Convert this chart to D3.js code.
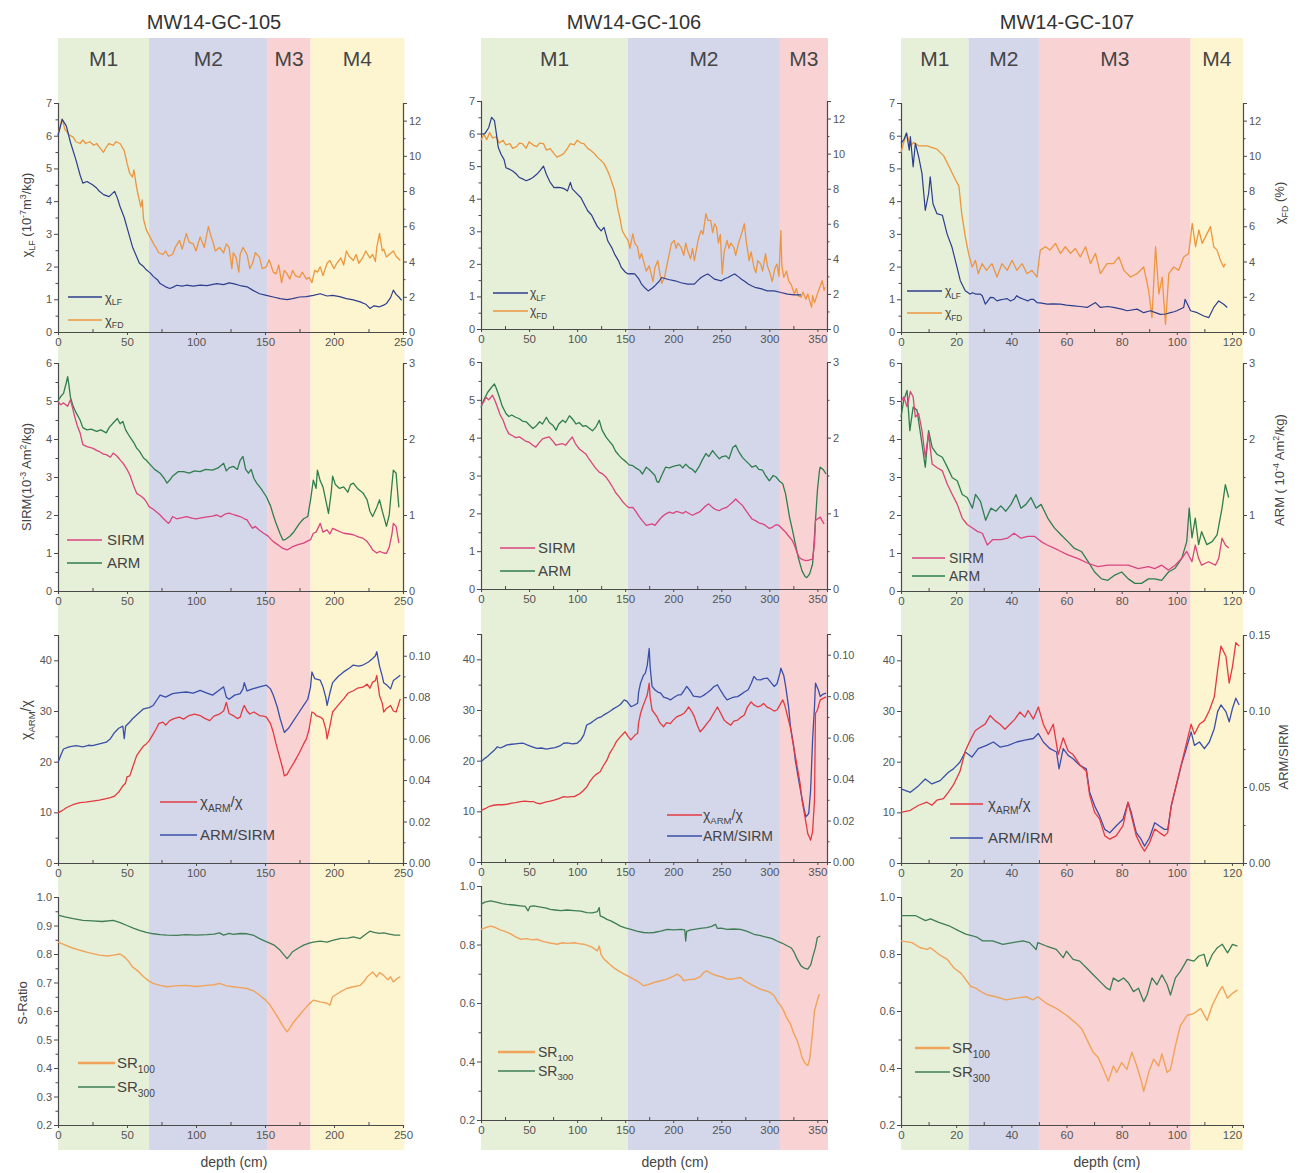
<!DOCTYPE html>
<html><head><meta charset="utf-8">
<script src="https://cdn.jsdelivr.net/npm/d3@7"></script>
<style>body{margin:0;background:#fff}svg{display:block;font-family:"Liberation Sans",Arial,sans-serif}</style>
</head><body><svg id="c" width="1300" height="1173"></svg>
<script>
// ---------------- DATA ----------------
const coreNames = ['MW14-GC-105','MW14-GC-106','MW14-GC-107'];
const zones105 = [0, 66, 152, 183, 251];
const zones106 = [0, 153, 311, 361];
const zones107 = [0, 24.5, 50, 105, 124];
const zoneNames105 = ['M1','M2','M3','M4'];
const zoneNames106 = ['M1','M2','M3'];
const zoneNames107 = ['M1','M2','M3','M4'];
const xTicks105 = [0,50,100,150,200,250];
const xTicks106 = [0,50,100,150,200,250,300,350];
const xTicks107 = [0,20,40,60,80,100,120];
const ticksChiLF = [0,1,2,3,4,5,6,7];
const ticksChiFD = [0,2,4,6,8,10,12];
const ticksSIRM = [0,1,2,3,4,5,6];
const ticksARM = [0,1,2,3];
const ticksChiRatio = [0,10,20,30,40];
const ticksArmSirmA = [0,0.02,0.04,0.06,0.08,0.10];
const ticksArmSirmB = [0,0.05,0.10,0.15];
const ticksSRa = [0.2,0.3,0.4,0.5,0.6,0.7,0.8,0.9,1.0];
const ticksSRb = [0.2,0.4,0.6,0.8,1.0];

// GC-105
const chiLF_105 = [[0,6.0],[3,6.5],[6,6.3],[9,5.8],[13,5.26],[16,4.8],[18,4.55],[21,4.6],[25,4.5],[28,4.4],[30,4.3],[33,4.2],[37,4.14],[41,4.3],[43,4.1],[45,3.83],[48,3.5],[50,3.2],[52,2.9],[54,2.6],[57,2.3],[59,2.1],[62,2.0],[64,1.9],[67,1.8],[69,1.7],[72,1.6],[74,1.48],[78,1.38],[81,1.33],[84,1.38],[86,1.43],[90,1.4],[93,1.43],[98,1.4],[103,1.43],[108,1.42],[115,1.48],[120,1.45],[124,1.5],[127,1.48],[132,1.42],[137,1.38],[141,1.28],[146,1.17],[151,1.12],[156,1.07],[161,1.02],[166,0.99],[170,1.02],[175,1.07],[180,1.08],[185,1.12],[190,1.17],[195,1.1],[199,1.12],[204,1.08],[209,1.02],[214,0.98],[219,0.92],[223,0.85],[226,0.72],[229,0.8],[233,0.77],[236,0.82],[238,0.87],[241,1.05],[243,1.28],[245,1.15],[247,1.07],[249,0.97]];
const chiFD_105 = [[0,11.2],[2,11.8],[3,12.1],[5,11.5],[8,11.2],[11,11.06],[13,10.8],[16,10.7],[18,10.9],[20,10.7],[23,10.8],[26,10.6],[28,10.7],[30,10.5],[33,10.2],[35,10.5],[37,10.7],[40,10.6],[42,10.8],[45,10.7],[48,10.3],[50,9.6],[52,9.0],[54,8.8],[55,9.2],[57,8.2],[58,7.8],[60,7.1],[61,7.5],[62,6.4],[64,5.8],[66,5.5],[68,5.2],[70,4.9],[71,4.8],[73,4.5],[76,4.4],[78,4.6],[80,4.3],[83,4.4],[85,4.8],[88,5.2],[90,4.7],[93,5.6],[95,5.1],[98,5.0],[100,4.6],[103,5.4],[106,4.8],[109,6.0],[111,5.4],[112,5.2],[114,4.6],[117,4.8],[120,4.5],[122,5.0],[124,4.8],[126,3.6],[127,4.5],[129,4.25],[131,3.4],[132,4.4],[134,4.8],[137,4.4],[139,3.6],[141,3.9],[143,4.5],[146,4.25],[148,3.6],[151,3.7],[153,4.1],[156,3.4],[158,3.3],[160,3.8],[162,2.8],[164,3.5],[166,3.3],[168,3.0],[170,3.5],[172,3.2],[175,3.1],[177,3.4],[180,3.0],[182,3.1],[184,2.8],[186,3.5],[188,3.4],[190,3.7],[192,3.2],[195,3.9],[197,4.06],[200,3.6],[202,3.9],[205,4.2],[207,3.8],[209,4.6],[211,4.3],[214,4.06],[216,4.4],[218,3.9],[221,4.25],[223,4.6],[226,4.2],[228,4.4],[230,4.0],[231,4.8],[233,5.6],[235,4.6],[236,4.7],[238,4.25],[240,4.4],[243,4.6],[245,4.3],[248,4.06]];
const sirm_105 = [[0,4.99],[2,4.9],[4,4.95],[7,4.86],[9,5.03],[10,4.9],[12,4.6],[14,4.35],[16,4.16],[18,3.85],[21,3.8],[25,3.76],[28,3.7],[30,3.67],[33,3.6],[35,3.59],[38,3.52],[40,3.63],[43,3.54],[45,3.45],[47,3.37],[50,3.2],[52,3.06],[55,2.75],[57,2.57],[60,2.5],[62,2.44],[64,2.35],[66,2.22],[69,2.15],[71,2.09],[74,2.0],[76,1.92],[78,1.85],[80,1.78],[81,1.82],[83,1.96],[86,1.9],[90,1.93],[93,1.96],[97,1.92],[100,1.9],[103,1.92],[108,1.95],[112,1.97],[115,2.0],[118,1.95],[121,2.02],[124,2.05],[128,2.0],[132,1.96],[135,1.9],[137,1.87],[139,1.75],[141,1.65],[143,1.7],[146,1.6],[149,1.52],[152,1.45],[156,1.3],[160,1.2],[163,1.12],[166,1.08],[168,1.12],[170,1.17],[174,1.22],[178,1.26],[180,1.3],[183,1.35],[185,1.52],[187,1.55],[189,1.7],[190,1.78],[192,1.55],[195,1.61],[197,1.5],[199,1.65],[203,1.58],[207,1.52],[211,1.5],[214,1.48],[218,1.42],[221,1.39],[224,1.3],[226,1.2],[228,1.08],[231,1.0],[233,1.04],[236,1.0],[238,0.99],[240,1.15],[242,1.5],[243,1.78],[245,1.7],[247,1.26]];
const arm_105 = [[0,2.5],[2,2.56],[4,2.6],[6,2.74],[7,2.82],[8,2.7],[9,2.55],[11,2.43],[13,2.35],[16,2.25],[18,2.15],[21,2.12],[24,2.13],[28,2.1],[31,2.12],[35,2.08],[37,2.15],[40,2.21],[42,2.25],[43,2.27],[45,2.2],[47,2.23],[49,2.12],[52,2.03],[55,1.95],[57,1.88],[59,1.84],[62,1.75],[64,1.72],[66,1.68],[70,1.6],[74,1.55],[77,1.48],[79,1.42],[81,1.46],[83,1.51],[87,1.57],[91,1.57],[95,1.55],[99,1.58],[103,1.57],[107,1.6],[112,1.59],[116,1.62],[120,1.68],[122,1.58],[124,1.62],[127,1.64],[130,1.6],[132,1.72],[134,1.77],[136,1.6],[138,1.55],[140,1.6],[142,1.48],[144,1.42],[147,1.35],[151,1.24],[154,1.12],[156,1.0],[158,0.89],[161,0.75],[163,0.67],[165,0.68],[168,0.72],[171,0.78],[175,0.89],[178,0.95],[181,0.98],[183,1.2],[185,1.46],[187,1.35],[188,1.59],[190,1.45],[192,1.37],[194,1.2],[196,1.02],[198,1.3],[199,1.51],[201,1.4],[204,1.35],[207,1.37],[210,1.3],[212,1.4],[214,1.42],[217,1.35],[221,1.29],[224,1.2],[226,1.05],[228,0.98],[231,1.1],[233,1.2],[235,1.05],[238,0.85],[240,1.0],[242,1.4],[243,1.59],[245,1.55],[247,1.1]];
const chiRatio_105 = [[0,9.9],[2,10.2],[4,10.5],[6,10.9],[9,11.3],[12,11.6],[16,11.9],[20,12.0],[25,12.2],[30,12.4],[35,12.7],[38,12.9],[41,13.2],[44,14.0],[47,15.2],[49,15.8],[50,17.0],[52,17.2],[54,18.8],[57,21.2],[59,22.0],[62,23.1],[64,23.5],[66,24.1],[68,25.0],[71,26.4],[73,27.5],[76,27.8],[78,27.2],[81,28.1],[84,28.5],[88,28.8],[91,28.4],[95,29.1],[99,29.4],[103,29.1],[106,28.6],[110,28.1],[113,29.0],[117,29.4],[120,30.0],[122,31.7],[124,29.5],[127,29.1],[130,28.5],[132,28.8],[134,30.5],[135,31.1],[137,30.0],[139,29.4],[142,29.8],[146,29.1],[149,29.0],[151,28.8],[154,27.5],[156,25.8],[158,23.5],[161,20.5],[163,18.5],[164,17.2],[166,17.5],[168,18.5],[171,19.8],[175,21.8],[178,23.5],[180,24.5],[182,26.5],[184,29.8],[186,29.5],[187,29.1],[190,28.8],[192,28.4],[194,26.5],[195,24.5],[197,27.0],[199,29.8],[202,30.8],[205,31.8],[207,32.4],[210,33.5],[214,34.0],[217,34.5],[221,34.7],[224,35.3],[226,34.5],[228,35.7],[230,36.0],[231,37.0],[233,33.0],[235,31.5],[236,29.8],[238,30.5],[241,31.1],[243,30.0],[245,29.8],[247,31.5],[248,32.4]];
const armSirm_105 = [[0,0.0485],[2,0.052],[4,0.055],[8,0.056],[13,0.0566],[18,0.056],[22,0.0568],[25,0.0566],[30,0.0575],[35,0.0583],[38,0.06],[41,0.063],[44,0.065],[47,0.066],[48,0.06],[49,0.066],[52,0.068],[54,0.0696],[58,0.072],[62,0.0744],[66,0.075],[69,0.076],[72,0.079],[74,0.081],[78,0.08],[83,0.0817],[88,0.0822],[93,0.0825],[98,0.082],[103,0.0833],[108,0.082],[112,0.081],[116,0.083],[120,0.085],[122,0.08],[124,0.079],[128,0.081],[132,0.0817],[134,0.084],[135,0.087],[137,0.083],[141,0.084],[146,0.085],[151,0.0858],[154,0.084],[156,0.081],[159,0.075],[161,0.0696],[164,0.063],[167,0.065],[170,0.068],[174,0.072],[178,0.076],[181,0.079],[183,0.085],[184,0.0922],[186,0.089],[190,0.0882],[192,0.085],[194,0.08],[195,0.076],[197,0.082],[199,0.087],[203,0.09],[207,0.0922],[211,0.094],[214,0.0955],[218,0.095],[221,0.0955],[225,0.097],[228,0.0987],[230,0.1],[231,0.102],[233,0.095],[235,0.09],[236,0.087],[238,0.086],[241,0.084],[243,0.088],[245,0.089],[248,0.0906]];
const srLow_105 = [[0,0.842],[5,0.832],[10,0.822],[16,0.813],[22,0.805],[30,0.796],[36,0.793],[40,0.796],[45,0.8],[48,0.79],[51,0.775],[54,0.755],[58,0.74],[62,0.72],[66,0.705],[69,0.697],[74,0.69],[79,0.685],[85,0.688],[93,0.69],[100,0.686],[108,0.69],[113,0.692],[117,0.697],[122,0.688],[127,0.685],[132,0.682],[137,0.679],[142,0.67],[146,0.656],[150,0.64],[153,0.625],[156,0.603],[159,0.58],[162,0.556],[164,0.54],[166,0.527],[168,0.54],[170,0.556],[174,0.58],[178,0.603],[182,0.625],[185,0.638],[190,0.632],[195,0.627],[197,0.62],[199,0.65],[204,0.665],[209,0.679],[214,0.685],[219,0.69],[222,0.705],[224,0.72],[226,0.728],[228,0.737],[231,0.72],[233,0.735],[236,0.725],[239,0.71],[241,0.72],[243,0.702],[246,0.715],[248,0.72]];
const srHigh_105 = [[0,0.936],[5,0.93],[11,0.924],[18,0.918],[25,0.916],[32,0.914],[40,0.918],[45,0.91],[50,0.9],[55,0.89],[59,0.883],[64,0.876],[69,0.871],[74,0.868],[79,0.866],[86,0.865],[93,0.868],[100,0.866],[108,0.868],[113,0.87],[117,0.874],[120,0.866],[124,0.872],[127,0.869],[132,0.872],[137,0.871],[142,0.865],[146,0.854],[150,0.845],[153,0.839],[157,0.83],[161,0.813],[164,0.795],[166,0.784],[168,0.795],[170,0.808],[174,0.82],[178,0.831],[182,0.838],[185,0.842],[190,0.845],[195,0.842],[199,0.848],[205,0.855],[210,0.856],[214,0.86],[219,0.854],[222,0.866],[226,0.88],[229,0.876],[233,0.872],[236,0.874],[240,0.87],[244,0.866],[248,0.866]];

// GC-106
const chiLF_106 = [[0,5.98],[4,6.0],[8,6.18],[11,6.5],[14,6.4],[16,6.0],[18,5.57],[21,5.36],[24,5.2],[26,4.95],[30,4.9],[33,4.85],[37,4.75],[40,4.65],[44,4.6],[47,4.55],[51,4.6],[54,4.65],[58,4.75],[61,4.85],[65,5.0],[68,4.75],[72,4.5],[76,4.34],[80,4.35],[83,4.34],[87,4.3],[90,4.24],[93,4.5],[95,4.3],[97,4.24],[100,4.15],[104,4.03],[108,3.8],[111,3.63],[115,3.5],[118,3.32],[121,3.15],[125,3.01],[128,3.12],[132,2.7],[136,2.5],[139,2.3],[143,2.1],[146,1.89],[150,1.75],[153,1.69],[157,1.7],[160,1.69],[164,1.55],[167,1.38],[171,1.25],[174,1.17],[178,1.25],[181,1.33],[185,1.45],[188,1.58],[195,1.52],[202,1.48],[208,1.42],[215,1.38],[222,1.38],[226,1.5],[229,1.58],[233,1.65],[236,1.69],[240,1.6],[243,1.53],[247,1.5],[250,1.48],[254,1.55],[257,1.58],[261,1.65],[264,1.69],[268,1.6],[271,1.53],[275,1.45],[278,1.38],[282,1.32],[285,1.28],[292,1.23],[298,1.17],[305,1.17],[312,1.12],[319,1.07],[326,1.05],[333,1.05]];
const chiFD_106 = [[0,10.76],[3,11.1],[6,10.8],[9,11.2],[12,10.9],[16,10.95],[19,10.6],[23,10.76],[26,10.5],[30,10.57],[33,10.3],[37,10.4],[40,10.6],[43,10.57],[47,10.3],[50,10.67],[54,10.5],[58,10.4],[61,10.6],[65,10.57],[68,10.2],[72,10.29],[76,10.0],[79,9.8],[83,9.9],[86,10.0],[90,10.3],[93,10.57],[97,10.5],[100,10.76],[104,10.6],[107,10.57],[111,10.3],[114,10.19],[118,10.0],[121,9.8],[125,9.6],[128,9.43],[131,9.1],[133,8.86],[136,8.4],[139,7.9],[142,6.95],[145,6.2],[147,5.6],[150,5.3],[153,5.05],[155,4.6],[158,5.43],[160,4.9],[163,4.67],[165,4.0],[167,4.3],[170,3.7],[172,3.3],[175,3.6],[177,3.14],[179,2.7],[181,3.5],[184,3.9],[186,3.2],[188,2.6],[191,2.95],[194,3.8],[196,4.3],[198,4.86],[201,5.05],[203,4.6],[205,4.9],[208,4.67],[211,4.2],[213,4.9],[215,4.48],[218,4.0],[220,4.6],[222,3.9],[224,4.5],[226,5.1],[229,5.62],[231,5.4],[234,6.57],[236,6.2],[239,6.19],[241,5.5],[243,6.0],[245,5.8],[247,4.9],[249,5.4],[251,3.14],[253,4.4],[256,5.05],[258,4.6],[260,4.9],[263,4.67],[265,4.2],[268,4.9],[270,5.24],[272,5.6],[274,6.0],[276,5.0],[279,3.9],[281,4.4],[284,3.52],[286,3.2],[288,3.9],[291,3.7],[293,3.3],[296,4.29],[298,3.6],[301,3.14],[303,2.7],[306,3.5],[308,3.7],[310,3.0],[312,5.62],[313,3.6],[315,2.95],[318,3.3],[320,2.76],[323,2.5],[326,2.0],[328,2.3],[330,1.9],[333,1.81],[335,2.1],[338,1.7],[340,2.0],[342,1.6],[344,1.24],[345,1.9],[347,1.5],[350,2.0],[352,2.3],[355,2.76],[357,2.2],[358,2.38]];
const sirm_106 = [[0,4.85],[3,4.95],[5,5.07],[8,5.0],[12,5.12],[15,4.95],[17,4.81],[20,4.6],[23,4.46],[26,4.25],[29,4.1],[33,4.05],[36,4.0],[40,4.02],[44,3.95],[47,3.9],[50,3.88],[54,3.8],[57,3.75],[60,3.85],[64,3.97],[68,4.0],[71,4.02],[75,3.9],[78,3.8],[81,3.82],[85,3.84],[88,3.8],[92,3.93],[95,4.02],[98,3.85],[102,3.71],[105,3.65],[109,3.57],[112,3.45],[116,3.31],[119,3.2],[123,3.09],[126,3.05],[130,2.96],[133,2.85],[137,2.69],[140,2.55],[144,2.43],[147,2.32],[151,2.21],[154,2.15],[158,2.16],[161,2.05],[165,1.9],[168,1.8],[172,1.68],[175,1.7],[178,1.72],[181,1.68],[185,1.81],[188,1.9],[192,1.98],[196,2.03],[200,2.0],[203,2.05],[206,2.03],[210,2.0],[213,2.05],[217,1.99],[220,1.95],[224,2.0],[227,2.03],[230,2.1],[234,2.2],[237,2.25],[241,2.15],[244,2.1],[248,2.07],[251,2.12],[255,2.15],[258,2.21],[262,2.3],[265,2.38],[268,2.3],[272,2.21],[275,2.1],[279,1.95],[282,1.85],[286,1.8],[289,1.75],[293,1.72],[296,1.68],[300,1.6],[303,1.63],[307,1.7],[310,1.68],[313,1.6],[317,1.5],[320,1.4],[324,1.28],[327,1.1],[329,0.95],[331,0.84],[334,0.78],[338,0.75],[341,0.76],[345,0.79],[347,1.2],[348,1.81],[350,1.85],[353,1.9],[355,1.8],[357,1.72]];
const arm_106 = [[0,2.4],[3,2.5],[7,2.6],[10,2.65],[14,2.71],[16,2.65],[19,2.54],[22,2.42],[26,2.32],[29,2.28],[32,2.3],[36,2.27],[40,2.25],[43,2.22],[47,2.21],[50,2.17],[54,2.12],[57,2.15],[61,2.21],[64,2.18],[68,2.27],[71,2.2],[75,2.16],[78,2.1],[81,2.18],[85,2.23],[88,2.2],[92,2.29],[95,2.25],[99,2.18],[102,2.2],[106,2.15],[109,2.16],[113,2.12],[116,2.09],[120,2.15],[123,2.23],[126,2.1],[130,2.01],[133,1.96],[137,1.9],[140,1.82],[144,1.76],[147,1.72],[151,1.68],[154,1.64],[158,1.63],[161,1.6],[165,1.57],[168,1.52],[172,1.61],[175,1.58],[178,1.54],[181,1.5],[183,1.42],[185,1.41],[188,1.5],[192,1.61],[196,1.6],[200,1.62],[203,1.63],[207,1.64],[210,1.6],[213,1.65],[217,1.6],[220,1.58],[223,1.54],[227,1.62],[230,1.7],[234,1.79],[237,1.75],[241,1.83],[244,1.78],[248,1.72],[251,1.75],[255,1.76],[258,1.72],[262,1.87],[265,1.9],[268,1.82],[272,1.74],[275,1.7],[279,1.65],[282,1.61],[286,1.63],[289,1.58],[293,1.57],[296,1.5],[300,1.43],[304,1.5],[307,1.48],[311,1.42],[314,1.39],[317,1.25],[321,0.95],[324,0.78],[327,0.6],[330,0.42],[334,0.24],[337,0.17],[339,0.15],[342,0.2],[345,0.33],[347,0.7],[350,1.3],[352,1.55],[353,1.61],[356,1.58],[359,1.52]];
const chiRatio_106 = [[0,10.2],[5,10.6],[9,11.0],[13,11.2],[18,11.3],[22,11.3],[27,11.4],[32,11.6],[36,11.7],[41,11.9],[46,12.0],[50,11.9],[55,11.9],[58,11.6],[62,11.5],[67,11.8],[72,12.0],[76,12.2],[81,12.5],[86,12.9],[90,12.8],[94,12.9],[97,12.9],[100,13.2],[103,13.5],[106,14.0],[110,14.8],[113,15.8],[117,16.8],[120,17.3],[124,17.8],[127,18.9],[131,20.1],[134,21.5],[138,22.7],[141,23.8],[145,24.7],[148,25.3],[150,25.7],[153,24.8],[156,24.1],[160,25.0],[163,25.4],[164,27.5],[166,29.3],[168,30.5],[171,32.0],[173,33.0],[175,35.3],[176,32.5],[178,30.0],[180,29.5],[183,28.7],[186,27.5],[190,26.7],[193,27.5],[197,27.3],[200,28.0],[204,28.7],[208,29.0],[211,29.3],[214,30.0],[216,30.6],[219,29.8],[222,28.7],[225,27.0],[228,25.7],[231,26.3],[235,27.3],[238,28.0],[242,29.3],[246,30.6],[249,29.5],[253,28.0],[256,27.5],[260,27.0],[263,27.8],[267,28.0],[270,28.5],[274,29.0],[277,30.5],[281,31.6],[284,31.0],[288,30.6],[291,30.8],[294,31.3],[298,30.5],[301,30.3],[305,29.8],[308,30.0],[311,31.0],[314,32.0],[316,31.0],[319,28.7],[322,26.5],[324,24.1],[327,21.0],[329,18.8],[332,15.5],[334,12.2],[337,9.0],[340,5.6],[342,4.8],[343,4.3],[345,6.0],[347,12.2],[348,29.3],[350,30.0],[353,32.0],[356,32.3],[359,32.6]];
const armSirm_106 = [[0,0.0484],[4,0.05],[7,0.051],[10,0.0524],[14,0.054],[17,0.0556],[20,0.055],[24,0.0558],[27,0.0565],[32,0.0568],[36,0.057],[40,0.0572],[44,0.0573],[48,0.0565],[52,0.0558],[58,0.0548],[63,0.055],[68,0.0545],[72,0.0548],[77,0.0552],[82,0.056],[86,0.0573],[90,0.0575],[95,0.057],[100,0.0573],[104,0.059],[107,0.0613],[110,0.0661],[114,0.067],[117,0.068],[121,0.0694],[125,0.07],[128,0.071],[131,0.0718],[135,0.073],[138,0.074],[142,0.075],[145,0.076],[149,0.0782],[152,0.0775],[156,0.075],[159,0.0755],[163,0.0766],[164,0.082],[166,0.0863],[169,0.09],[171,0.0911],[173,0.095],[175,0.103],[176,0.094],[178,0.0847],[181,0.083],[184,0.082],[187,0.0815],[190,0.0795],[194,0.079],[197,0.0782],[201,0.0795],[205,0.0806],[208,0.0806],[211,0.0825],[214,0.0847],[217,0.083],[221,0.08],[225,0.0798],[228,0.0795],[232,0.0805],[235,0.0815],[239,0.083],[242,0.0845],[246,0.0855],[249,0.083],[253,0.08],[256,0.0782],[260,0.079],[263,0.0795],[267,0.0798],[271,0.081],[274,0.082],[278,0.0831],[281,0.086],[284,0.0895],[287,0.088],[291,0.0879],[294,0.0885],[298,0.0887],[301,0.087],[305,0.0847],[308,0.086],[311,0.091],[312,0.0935],[315,0.09],[317,0.0847],[320,0.075],[322,0.0653],[325,0.057],[327,0.0492],[330,0.041],[333,0.0331],[336,0.026],[338,0.0218],[341,0.0234],[343,0.035],[345,0.0589],[347,0.075],[348,0.0863],[351,0.083],[353,0.0798],[356,0.081],[359,0.0815]];
const srLow_106 = [[0,0.852],[5,0.858],[10,0.863],[15,0.858],[20,0.85],[24,0.846],[30,0.838],[36,0.826],[41,0.818],[48,0.82],[53,0.816],[58,0.818],[65,0.81],[72,0.805],[79,0.801],[85,0.806],[90,0.804],[97,0.806],[102,0.803],[107,0.801],[112,0.795],[116,0.79],[121,0.778],[123,0.795],[125,0.765],[128,0.75],[133,0.735],[138,0.721],[143,0.71],[149,0.699],[154,0.69],[159,0.681],[164,0.672],[169,0.659],[174,0.663],[180,0.67],[187,0.676],[192,0.68],[197,0.687],[201,0.693],[204,0.699],[208,0.69],[211,0.676],[216,0.68],[222,0.681],[228,0.69],[232,0.705],[235,0.71],[240,0.7],[246,0.693],[252,0.688],[256,0.682],[260,0.681],[265,0.684],[270,0.687],[275,0.675],[281,0.664],[286,0.655],[291,0.647],[296,0.642],[301,0.636],[305,0.625],[308,0.607],[312,0.59],[315,0.573],[318,0.55],[322,0.528],[325,0.5],[329,0.471],[332,0.44],[334,0.414],[337,0.395],[340,0.386],[342,0.41],[343,0.437],[345,0.5],[347,0.573],[350,0.61],[352,0.63]];
const srHigh_106 = [[0,0.937],[4,0.945],[10,0.949],[16,0.945],[22,0.94],[27,0.937],[34,0.935],[41,0.932],[46,0.93],[49,0.915],[51,0.93],[55,0.932],[62,0.928],[68,0.924],[72,0.92],[77,0.918],[83,0.916],[90,0.918],[97,0.916],[104,0.914],[110,0.909],[116,0.908],[121,0.912],[123,0.926],[124,0.898],[128,0.892],[131,0.886],[135,0.881],[140,0.872],[145,0.863],[150,0.857],[156,0.852],[162,0.846],[169,0.841],[175,0.84],[180,0.841],[187,0.846],[194,0.852],[200,0.85],[208,0.852],[212,0.85],[213,0.812],[214,0.845],[218,0.85],[222,0.852],[228,0.855],[235,0.858],[240,0.862],[244,0.869],[246,0.855],[250,0.856],[256,0.852],[263,0.853],[270,0.852],[277,0.845],[284,0.835],[291,0.83],[298,0.824],[303,0.82],[308,0.812],[313,0.805],[319,0.795],[323,0.788],[326,0.772],[329,0.75],[333,0.727],[337,0.718],[340,0.716],[343,0.73],[345,0.755],[348,0.79],[350,0.824],[353,0.829]];

// GC-107
const chiLF_107 = [[0,5.77],[1,5.87],[2,6.08],[3,5.56],[3.4,5.97],[4.4,5.05],[5.2,5.77],[6.4,5.36],[7.6,4.85],[8.8,3.72],[10,4.23],[10.6,4.74],[11.6,3.92],[13,3.62],[15,3.57],[16.7,3.0],[18.5,2.59],[20.3,1.98],[21.5,1.57],[23.3,1.26],[25,1.16],[26,1.2],[27,1.16],[28.8,1.16],[29.5,1.1],[30.6,0.85],[31.5,0.95],[32.4,1.06],[33.5,1.05],[34.8,0.95],[36,0.98],[37.2,1.0],[38.5,1.02],[39.7,0.95],[41,1.0],[42,1.11],[43,1.05],[44.5,1.0],[46,0.95],[47,1.0],[48,1.0],[49.3,0.9],[51,0.88],[53,0.85],[55,0.86],[57.8,0.85],[60,0.82],[62.6,0.8],[65,0.78],[67.5,0.75],[70.5,0.9],[72.3,0.75],[75,0.78],[77,0.75],[80,0.7],[82,0.65],[85.6,0.7],[88,0.59],[90.4,0.65],[92,0.6],[94,0.54],[96,0.55],[97.7,0.59],[99,0.62],[100,0.65],[102.5,0.75],[103,1.0],[105,0.65],[107.4,0.59],[109.8,0.49],[111.6,0.44],[113.4,0.75],[115.2,0.95],[117,0.85],[118.3,0.75]];
const chiFD_107 = [[0,10.2],[1,10.76],[2,11.3],[3.4,10.57],[4.6,10.76],[6.4,10.57],[9.4,10.57],[13,10.38],[15.5,10.0],[17.9,9.24],[19.7,8.66],[21,8.28],[22,6.75],[23.3,5.41],[24.5,4.46],[25.8,3.69],[27,4.07],[28,3.31],[29.4,3.88],[31,3.5],[33,3.88],[34.8,3.12],[36.6,3.88],[38.5,3.5],[40.3,4.07],[42,3.5],[43.9,3.88],[45.7,3.31],[47.5,3.5],[49.3,3.12],[50.5,4.65],[52.4,4.84],[54,4.65],[56,5.03],[57.8,4.46],[59.6,4.84],[61.4,4.46],[63.2,4.74],[65,4.26],[66.9,4.84],[68.7,3.88],[70.5,4.46],[72.3,3.31],[74.7,3.88],[77,3.88],[79,4.26],[80.8,3.5],[83.2,3.12],[85.6,3.31],[88,3.69],[89.8,2.35],[91,0.82],[92.3,4.84],[93.5,2.16],[94.7,3.12],[95.9,0.44],[97.1,3.31],[98.9,3.69],[100.7,3.5],[102.5,4.26],[104.3,4.46],[105.6,6.17],[106.8,4.84],[108,5.79],[109.2,5.03],[111,5.6],[112.2,5.98],[113.4,4.84],[114.6,4.65],[115.8,4.07],[117,3.69],[117.6,3.88]];
const sirm_107 = [[0,4.98],[1,5.11],[2.2,4.85],[3.4,5.25],[4.4,5.11],[5.2,4.58],[6.4,4.67],[7.6,4.23],[8.8,3.52],[10,4.14],[11.3,3.34],[13,3.25],[15,3.16],[16.8,2.81],[18.6,2.54],[20.4,2.28],[22.2,1.92],[24,1.75],[25.9,1.66],[27.7,1.57],[29.5,1.52],[31.3,1.21],[33.2,1.35],[36.2,1.35],[38.6,1.39],[41,1.52],[43.5,1.39],[45.9,1.44],[48.4,1.44],[50.8,1.3],[53,1.21],[56.9,1.08],[60.5,0.95],[64,0.86],[67.8,0.73],[71.4,0.64],[75,0.68],[78.7,0.68],[82.4,0.68],[86,0.59],[89.7,0.64],[92,0.59],[94.5,0.68],[97,0.55],[99.4,0.68],[101.8,0.86],[103.6,1.04],[105.5,0.77],[106.7,1.21],[107.9,0.86],[109,0.68],[111.5,0.77],[114,0.68],[115.2,0.86],[116.4,1.39],[117.6,1.21],[118.8,1.13]];
const arm_107 = [[0,2.29],[1,2.51],[2.2,2.64],[3.2,2.11],[4.4,2.42],[5.8,2.38],[7.6,1.94],[8.8,1.63],[10,2.11],[11.3,1.89],[13,1.8],[15,1.76],[16.8,1.63],[18.6,1.49],[20.4,1.45],[22.2,1.27],[24,1.23],[25.9,1.09],[27,1.27],[28.8,1.18],[30.7,0.93],[32.6,1.09],[34.4,1.05],[36.2,1.12],[38,1.05],[39.9,1.14],[41.7,1.27],[43.5,1.09],[45.3,1.14],[47.1,1.23],[49,1.09],[50.8,1.14],[53.2,0.96],[55.6,0.83],[58,0.74],[60.5,0.65],[62.9,0.56],[65.4,0.52],[67.8,0.39],[70.2,0.25],[72.7,0.16],[75,0.14],[77.5,0.21],[80,0.25],[82.4,0.16],[84.8,0.1],[87.2,0.1],[89.7,0.16],[92,0.16],[94.5,0.14],[97,0.25],[99.4,0.3],[101.8,0.43],[103.6,0.65],[104.5,1.09],[105.5,0.7],[106.7,0.96],[107.9,0.61],[109,0.78],[110.9,0.61],[112.8,0.65],[114.6,0.74],[116.4,1.09],[117.6,1.4],[118.8,1.23]];
const chiRatio_107 = [[0,10.0],[3.4,10.4],[6.4,11.4],[9.4,12.0],[11.2,11.4],[13,12.4],[15.4,12.7],[17.2,14.0],[19,15.4],[21.4,18.1],[23.3,22.1],[25,24.1],[26.9,26.1],[28.7,26.8],[30.5,27.4],[32.3,29.1],[34.1,28.1],[35.9,27.4],[37.7,26.4],[39.5,27.4],[41.3,28.4],[43.1,29.8],[44.9,28.8],[46.1,30.1],[48,28.4],[49.8,30.8],[51.6,27.4],[53.4,25.4],[55.2,27.4],[57,21.4],[58.8,24.7],[60.6,22.1],[62.4,21.4],[64.8,19.4],[67.2,18.1],[68.4,13.4],[70.2,10.0],[72,8.7],[73.9,5.35],[75.7,4.7],[78,5.35],[80.5,7.36],[82.3,12.0],[83.5,9.4],[85.3,5.35],[87.1,3.34],[88.3,2.34],[90.1,4.0],[92,6.7],[93.7,6.0],[95.5,5.35],[96.7,6.0],[98,11.4],[99.8,15.4],[101.6,19.4],[103.4,23.4],[105.2,27.4],[106.4,25.4],[108.2,27.4],[110,28.1],[111.8,30.1],[113.6,32.8],[114.8,38.1],[116,42.8],[117.8,40.8],[119,35.5],[120.2,38.8],[121.4,43.5],[122.6,42.8]];
const armSirm_107 = [[0,0.0487],[3.4,0.0465],[6.4,0.0509],[8.8,0.0553],[11.2,0.052],[14.2,0.0542],[17.2,0.0597],[19,0.0619],[21.4,0.0664],[23.3,0.073],[25.7,0.0697],[28,0.0752],[31,0.0774],[33.5,0.0796],[35.9,0.0763],[38.9,0.0774],[41.9,0.0796],[44.9,0.0808],[48,0.0819],[49.8,0.0852],[51.6,0.0796],[54,0.0752],[56.4,0.073],[57.3,0.0619],[58.8,0.0752],[60.6,0.0708],[62.4,0.0686],[64.8,0.0642],[67.2,0.0619],[68.4,0.0465],[70.2,0.0376],[72,0.031],[73.9,0.0221],[75.7,0.0199],[78,0.0243],[80.5,0.0288],[82.3,0.0398],[83.5,0.0332],[85.3,0.0199],[87.1,0.0155],[88.3,0.0111],[90.1,0.0166],[92,0.0265],[93.7,0.0243],[95.5,0.0221],[96.7,0.0221],[98,0.0376],[99.8,0.0509],[101.6,0.0642],[103.4,0.0752],[105.2,0.0863],[106.4,0.0774],[108.2,0.0796],[110,0.0752],[111.8,0.0796],[113.6,0.0885],[114.8,0.0996],[116,0.104],[117.8,0.0996],[119,0.0929],[120.2,0.1018],[121.4,0.1084],[122.6,0.104]];
const srLow_107 = [[0,0.846],[4,0.84],[7,0.822],[9.5,0.816],[10.7,0.822],[13.7,0.799],[16.8,0.781],[19.2,0.751],[21.7,0.733],[23.5,0.71],[25.3,0.686],[27.1,0.68],[29,0.668],[31.4,0.656],[34.4,0.65],[38.1,0.639],[41.7,0.645],[45.4,0.65],[47.8,0.639],[49.6,0.65],[52.7,0.627],[56.3,0.609],[60,0.585],[63,0.561],[65.5,0.538],[67.9,0.49],[69.7,0.455],[71.5,0.437],[73.4,0.395],[75.2,0.354],[77,0.407],[78.2,0.384],[80,0.419],[81.9,0.395],[83.7,0.455],[85.5,0.407],[87.3,0.348],[88,0.318],[89.8,0.384],[91.6,0.431],[93.4,0.407],[94.6,0.449],[96.5,0.384],[97.7,0.395],[99.5,0.478],[101.3,0.549],[103.8,0.585],[106.2,0.591],[108.6,0.609],[111,0.567],[112.9,0.621],[115.3,0.668],[116.5,0.686],[118.4,0.645],[120.2,0.662],[122,0.674]];
const srHigh_107 = [[0,0.935],[5.2,0.935],[8.9,0.917],[10.7,0.923],[13.7,0.911],[17.4,0.899],[21,0.881],[23.5,0.87],[25.9,0.864],[27.7,0.858],[29.6,0.846],[33.2,0.846],[36.9,0.834],[40.5,0.84],[44.2,0.846],[46.6,0.84],[49,0.816],[49.6,0.84],[52.7,0.828],[56.3,0.816],[58.8,0.787],[60,0.81],[62.4,0.781],[64.8,0.775],[67.3,0.751],[69.7,0.727],[72.1,0.704],[74.6,0.68],[75.8,0.674],[77,0.716],[78.8,0.704],[80.7,0.716],[82.5,0.698],[84.3,0.668],[86.1,0.68],[88,0.633],[89.2,0.656],[91,0.716],[92.8,0.692],[94.6,0.727],[96.5,0.692],[97.7,0.656],[99.5,0.716],[101.3,0.739],[103.8,0.781],[106.2,0.775],[108,0.793],[109.9,0.799],[111,0.757],[112.9,0.799],[114.7,0.822],[116.5,0.834],[118.4,0.804],[120.2,0.834],[122,0.828]];

// ---------------- LAYOUT / STYLE ----------------
const zoneFill = {M1:'#e6efd7', M2:'#d4d6ea', M3:'#f9d3d4', M4:'#fdf5d0'};
const C = {lf:'#2c3f8c', fd:'#ec9640', sirm:'#d9457e', arm:'#2f7e4d', ratio:'#e23a40', armsirm:'#3a4fa8', srl:'#f0a35a', srh:'#3f7d55'};
const rowsStd = [
  {y0:103, y1:332},
  {y0:363, y1:591},
  {y0:635, y1:863},
  {y0:897, y1:1125}
];
const rows106 = [
  {y0:101, y1:329},
  {y0:362, y1:589},
  {y0:634, y1:862},
  {y0:886, y1:1120}
];
const cols = [
  {x0:58, x1:403, dom:[0,250], ticks:xTicks105, minorStep:25, zones:zones105, names:zoneNames105, title:coreNames[0], tx:214, depthX:234, rows:rowsStd, data:[chiLF_105,chiFD_105,sirm_105,arm_105,chiRatio_105,armSirm_105,srLow_105,srHigh_105]},
  {x0:481, x1:827, dom:[0,360], ticks:xTicks106, minorStep:25, zones:zones106, names:zoneNames106, title:coreNames[1], tx:634, depthX:675, rows:rows106, data:[chiLF_106,chiFD_106,sirm_106,arm_106,chiRatio_106,armSirm_106,srLow_106,srHigh_106]},
  {x0:901, x1:1243, dom:[0,124], ticks:xTicks107, minorStep:10, zones:zones107, names:zoneNames107, title:coreNames[2], tx:1067, depthX:1107, rows:rowsStd, data:[chiLF_107,chiFD_107,sirm_107,arm_107,chiRatio_107,armSirm_107,srLow_107,srHigh_107]}
];

const svg = d3.select('#c');
const AX = '#4a4a4a';

function rich(textSel, parts, size){
  let shift = 0;
  parts.forEach(([s,m])=>{
    const target = m==='sub' ? 0.3*size : (m==='sup' ? -0.4*size : 0);
    textSel.append('tspan').attr('dy', target-shift).attr('font-size', m ? size*0.68 : size).text(s);
    shift = target;
  });
}
function range(a,b,st){const r=[];for(let v=a;v<=b+1e-9;v+=st)r.push(+v.toFixed(4));return r;}

function styleAxis(g, fs){
  g.select('.domain').attr('stroke',AX).attr('stroke-width',1.1);
  g.selectAll('.tick line').attr('stroke',AX).attr('stroke-width',1);
  g.selectAll('.tick text').attr('fill','#555').attr('font-size',fs||11).attr('font-family','"Liberation Sans",Arial,sans-serif');
}
function yAxis(x, scale, side, major, minorStep, fmt){
  const mk = side==='left' ? d3.axisLeft : d3.axisRight;
  const [a,b] = scale.domain();
  const minor = range(a, b, minorStep).filter(v=>!major.some(m=>Math.abs(m-v)<1e-9));
  const gm = svg.append('g').attr('transform',`translate(${x},0)`)
    .call(mk(scale).tickValues(minor).tickFormat('').tickSizeOuter(0).tickSize(2.5));
  styleAxis(gm);
  const g = svg.append('g').attr('transform',`translate(${x},0)`)
    .call(mk(scale).tickValues(major).tickFormat(fmt).tickSizeOuter(0).tickSize(4).tickPadding(2));
  styleAxis(g);
}
function xAxis(y, scale, major, minorStep){
  const [a,b] = scale.domain();
  const minor = range(a, b, minorStep).filter(v=>!major.includes(v));
  const gm = svg.append('g').attr('transform',`translate(0,${y})`)
    .call(d3.axisTop(scale).tickValues(minor).tickFormat('').tickSizeOuter(0).tickSize(3));
  styleAxis(gm);
  gm.select('.domain').remove();
  const g = svg.append('g').attr('transform',`translate(0,${y})`)
    .call(d3.axisBottom(scale).tickValues(major).tickFormat(d3.format('d')).tickSizeOuter(0).tickSize(3).tickPadding(3));
  styleAxis(g, 11.5);
}
function drawLine(data, xs, ys, color, w){
  svg.append('path').datum(data).attr('fill','none').attr('stroke',color).attr('stroke-width',w||1.2)
    .attr('stroke-linejoin','round')
    .attr('d', d3.line().x(d=>xs(d[0])).y(d=>ys(d[1])));
}
function legend(x1, x2, y, gap, tx, fs, items){
  items.forEach((it,i)=>{
    const yy = y + i*gap;
    svg.append('line').attr('x1',x1).attr('x2',x2).attr('y1',yy).attr('y2',yy).attr('stroke',it.c).attr('stroke-width',it.w||1.3);
    const t = svg.append('text').attr('x',tx).attr('y',yy+fs*0.35).attr('fill','#444').attr('font-size',fs);
    rich(t, it.p, fs);
  });
}

const legendPos = [
  [[68,102,297,23,105,13],[67,102,540,23,107,15],[160,197,802,33,200,15],[78,115,1063,24,117,15]],
  [[493,528,293,18,530,12],[500,535,548,23,538,15],[667,702,815,21,703,14],[498,535,1052,19,538,14]],
  [[907,942,291,22,945,12],[912,945,558,18,949,14],[950,983,804,34,988,15],[915,950,1048,24,952,15]]
];
const chiLFParts=[['χ',''],['LF','sub']], chiFDParts=[['χ',''],['FD','sub']];
const ratioParts=[['χ',''],['ARM','sub'],['/χ','']];

cols.forEach((c,ci)=>{
  const xs = d3.scaleLinear().domain(c.dom).range([c.x0,c.x1]);
  for(let i=0;i<c.names.length;i++){
    const a = xs(c.zones[i]), b = xs(c.zones[i+1]);
    svg.append('rect').attr('x',a).attr('y',38).attr('width',b-a).attr('height',1112).attr('fill',zoneFill[c.names[i]]);
    svg.append('text').attr('x',(a+b)/2).attr('y',66).attr('text-anchor','middle').attr('font-size',21).attr('fill','#454545').text(c.names[i]);
  }
  svg.append('text').attr('x',c.tx).attr('y',29).attr('text-anchor','middle').attr('font-size',20).attr('fill','#333').text(c.title);
});

cols.forEach((c,ci)=>{
  const xs = d3.scaleLinear().domain(c.dom).range([c.x0,c.x1]);
  const [lf,fd,sirm,arm,ratio,armsirm,srl,srh] = c.data;
  const lp = legendPos[ci];
  const R = c.rows;
  // Row 1
  let r = R[0];
  let yl = d3.scaleLinear().domain([0,7]).range([r.y1,r.y0]);
  let yr = d3.scaleLinear().domain([0,13]).range([r.y1,r.y0]);
  yAxis(c.x0, yl, 'left', ticksChiLF, 0.5, d3.format('d'));
  yAxis(c.x1, yr, 'right', ticksChiFD, 1, d3.format('d'));
  xAxis(r.y1, xs, c.ticks, c.minorStep);
  drawLine(fd, xs, yr, C.fd, 1.3);
  drawLine(lf, xs, yl, C.lf, 1.2);
  legend(...lp[0], [{c:C.lf,p:chiLFParts},{c:C.fd,p:chiFDParts}]);
  // Row 2
  r = R[1];
  yl = d3.scaleLinear().domain([0,6]).range([r.y1,r.y0]);
  yr = d3.scaleLinear().domain([0,3]).range([r.y1,r.y0]);
  yAxis(c.x0, yl, 'left', ticksSIRM, 0.5, d3.format('d'));
  yAxis(c.x1, yr, 'right', ticksARM, 0.5, d3.format('d'));
  xAxis(r.y1, xs, c.ticks, c.minorStep);
  drawLine(arm, xs, yr, C.arm, 1.3);
  drawLine(sirm, xs, yl, C.sirm, 1.3);
  legend(...lp[1], [{c:C.sirm,p:[['SIRM','']]},{c:C.arm,p:[['ARM','']]}]);
  // Row 3
  r = R[2];
  yl = d3.scaleLinear().domain([0,45]).range([r.y1,r.y0]);
  const rdom = ci===2 ? [0,0.15] : [0,0.11];
  yr = d3.scaleLinear().domain(rdom).range([r.y1,r.y0]);
  yAxis(c.x0, yl, 'left', ticksChiRatio, 5, d3.format('d'));
  yAxis(c.x1, yr, 'right', ci===2?ticksArmSirmB:ticksArmSirmA, ci===2?0.025:0.01, d3.format('.2f'));
  xAxis(r.y1, xs, c.ticks, c.minorStep);
  drawLine(armsirm, xs, yr, C.armsirm, 1.3);
  drawLine(ratio, xs, yl, C.ratio, 1.3);
  legend(...lp[2], [{c:C.ratio,p:ratioParts},{c:C.armsirm,p:[[ci===2?'ARM/IRM':'ARM/SIRM','']]}]);
  // Row 4
  r = R[3];
  yl = d3.scaleLinear().domain([0.2,1.0]).range([r.y1,r.y0]);
  if(ci===0) yAxis(c.x0, yl, 'left', ticksSRa, 0.05, d3.format('.1f'));
  else yAxis(c.x0, yl, 'left', ticksSRb, 0.1, d3.format('.1f'));
  xAxis(r.y1, xs, c.ticks, c.minorStep);
  drawLine(srh, xs, yl, C.srh, 1.3);
  drawLine(srl, xs, yl, C.srl, 1.4);
  legend(...lp[3], [{c:C.srl,w:2.5,p:[['SR',''],['100','sub']]},{c:C.srh,p:[['SR',''],['300','sub']]}]);
  svg.append('text').attr('x',c.depthX).attr('y',1167).attr('text-anchor','middle').attr('font-size',14).attr('fill','#444').text('depth (cm)');
});

// axis titles
function vTitle(x, cy, parts, fs){
  const t = svg.append('text').attr('transform',`translate(${x},${cy}) rotate(-90)`).attr('text-anchor','middle').attr('fill','#444').attr('font-size',fs);
  rich(t, parts, fs);
}
vTitle(31, 215, [['χ',''],['LF','sub'],[' (10',''],['-7','sup'],['m',''],['3','sup'],['/kg)','']], 13);
vTitle(31, 477, [['SIRM(10',''],['-3','sup'],[' Am',''],['2','sup'],['/kg)','']], 13);
vTitle(31, 720, ratioParts, 14);
vTitle(27, 1003, [['S-Ratio','']], 13);
vTitle(1284, 203, [['χ',''],['FD','sub'],[' (%)','']], 13);
vTitle(1284, 470, [['ARM ( 10',''],['-4','sup'],[' Am',''],['2','sup'],['/kg)','']], 13);
vTitle(1288, 757, [['ARM/SIRM','']], 13);
</script></body></html>
